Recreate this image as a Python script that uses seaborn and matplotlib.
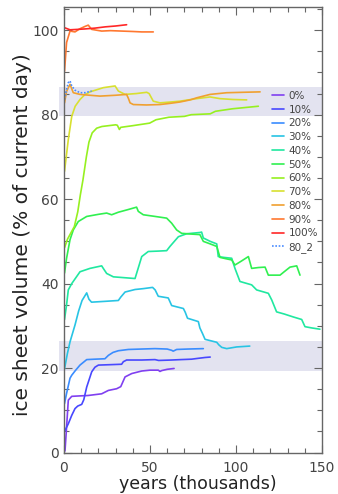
import pandas as pd
import seaborn as sns
import matplotlib.pyplot as plt
from matplotlib.ticker import MultipleLocator

# runs: start fraction of present-day ice sheet
labels = ['0%', '10%', '20%', '30%', '40%', '50%', '60%', '70%', '80%', '90%', '100%', '80_2']
colors = ['#8040f0', '#4848ff', '#3a8cff', '#28c4e4', '#20e8a0', '#30f050',
          '#96f020', '#d8e030', '#f0a030', '#ff7830', '#ff2828', '#4a8cff']

yrs_0 = [0, 0.6, 1.5, 2.5, 4.5, 9, 14, 21.9, 25.8, 30.6, 33, 35.5, 39.4, 45.2, 50, 54.8, 55.8, 56.8, 60, 64]
vol_0 = [0, 0.5, 6, 12.4, 13.3, 13.4, 13.5, 13.9, 14.7, 15.1, 15.6, 17.9, 18.7, 19.3, 19.5, 19.5, 19.2, 19.4, 19.7, 19.9]

yrs_10 = [0.3, 2.5, 4.5, 6.4, 8, 10.3, 11.5, 13.2, 16.1, 18, 20, 27, 33.5, 34.5, 36.4, 45.2, 52.9, 55, 62.6, 68, 74.2, 78, 82, 85]
vol_10 = [5, 6.8, 8.8, 10.4, 11, 11.4, 12.5, 15.5, 19.1, 20.2, 20.7, 20.8, 20.9, 21.5, 21.9, 21.9, 22, 21.8, 21.9, 22, 22.1, 22.3, 22.5, 22.6]

yrs_20 = [0.3, 1.5, 3.5, 4.5, 6.4, 9.3, 13.2, 18, 23.8, 25.8, 28.5, 31.6, 37.4, 45, 52.9, 60, 62.6, 63.5, 65.5, 72, 81]
vol_20 = [11.6, 14, 17.6, 18.3, 19.3, 20.7, 22, 22.1, 22.2, 23, 23.7, 24.1, 24.4, 24.5, 24.6, 24.5, 24.2, 24, 24.4, 24.5, 24.6]

yrs_30 = [0.3, 2, 3.5, 6.4, 8.5, 10.5, 13.2, 14.5, 16, 24, 31.6, 33, 35.5, 41.3, 46, 51.5, 53, 54.8, 60.6, 61.5,
          62.6, 69.4, 70.5, 71.8, 78.1, 79, 80.5, 82, 88.8, 90, 91.7, 94.6, 100.4, 108]
vol_30 = [19.8, 23.5, 26.2, 30.2, 33.5, 36, 37.8, 36.3, 35.6, 35.8, 36, 36.8, 38, 38.6, 38.8, 39.1, 38.5, 37, 36.6, 35.8,
          34.8, 34.1, 33.2, 31.8, 31, 29.5, 28.2, 26.8, 26.1, 25.5, 24.9, 24.6, 25, 25.2]

yrs_40 = [0.3, 1.5, 2.5, 4.5, 9.3, 15.1, 21.9, 23, 24.8, 28.7, 35, 41.3, 42.2, 45.2, 49, 55, 59.7, 61.6, 66.5, 71.3,
          79, 80, 81, 85, 88.8, 89.7, 93, 97.5, 99.4, 102.3, 109.1, 112, 118.8, 120.8, 123.6, 128, 133.3, 138.2,
          140.1, 144, 148.8]
vol_40 = [31.5, 35, 38.5, 40, 42.8, 43.6, 44.2, 43.5, 42.4, 41.6, 41.4, 41.2, 42.4, 46.4, 47.6, 47.7, 47.8, 48.8, 51.1, 51.8,
          52.1, 52.2, 50.8, 50, 49.4, 46.4, 46.2, 46, 43.6, 40.5, 39.7, 38.5, 37.7, 36.1, 33.3, 32.8, 32.1, 31.5,
          29.8, 29.5, 29.2]

yrs_50 = [0.3, 1.5, 3.5, 5.4, 8.3, 13.2, 20, 24.8, 27.7, 31.6, 37, 42.2, 43.2, 46.1, 53, 59.7, 62.6, 65.5, 68.4, 75,
          79, 81, 85, 88.8, 90.7, 94, 97.5, 99.4, 103, 107.2, 109.1, 113, 116.9, 118.8, 125.6, 128, 131.4, 135.3, 137.2]
vol_50 = [42.5, 46, 50.4, 52.7, 54.7, 55.9, 56.4, 56.7, 56.3, 56.9, 57.5, 58.1, 57.1, 56.3, 55.9, 55.5, 54.3, 52.7, 51.9, 51.7,
          51.6, 50, 49.4, 48.8, 46.2, 45.9, 45.6, 44.4, 45.3, 46.4, 43.6, 43.8, 43.9, 42, 42, 42.8, 43.9, 44.2, 42]

yrs_60 = [0.3, 2, 4, 6, 8, 9.5, 11, 13, 14.5, 16.4, 19, 22, 30, 31, 32.2, 33, 40, 49.8, 53.5, 61, 70, 74, 85, 88, 98, 113]
vol_60 = [48.5, 50.5, 52, 53.5, 57, 61, 64.5, 70, 73.5, 75.7, 76.8, 77.2, 77.6, 77.5, 76.5, 77, 77.4, 78, 78.8, 79.4,
          79.6, 80, 80.2, 80.8, 81.4, 82]

yrs_70 = [0.3, 2.5, 4.5, 6.5, 9.3, 12, 15.1, 22.9, 29.7, 31.6, 35.5, 42, 48.1, 49.5, 51.9, 55.8, 62, 67.4, 77.2, 84.9,
          90.7, 98, 106.2]
vol_70 = [66.6, 74.1, 79.6, 82, 83.6, 84.7, 85.4, 86.4, 86.8, 85.6, 84.8, 85, 85.3, 85, 83.2, 82.8, 83, 83.2, 83.8, 84.2,
          83.8, 83.6, 83.5]

yrs_80 = [0.3, 1.5, 3.5, 5.4, 9.3, 15, 20.9, 30, 36.4, 37.5, 38.4, 40.3, 48, 55.8, 62, 67.4, 73.3, 77.2, 84.9, 94.6, 104, 114]
vol_80 = [82.8, 85.5, 87.2, 85.2, 84.8, 84.6, 84.4, 84.6, 84.8, 83.8, 82.8, 82.4, 82.3, 82.4, 82.7, 83, 83.5, 84, 84.8,
          85.2, 85.3, 85.4]

yrs_90 = [0.3, 1.5, 3.5, 6.4, 9, 12.2, 14.1, 16.1, 21.9, 27, 33.5, 40, 45.2, 51.9]
vol_90 = [90.3, 97.1, 99.8, 99.6, 100.3, 100.9, 101.2, 100.2, 99.8, 99.9, 99.8, 99.7, 99.6, 99.6]

yrs_100 = [0.3, 3.5, 8, 12, 18, 24, 30, 36.4]
vol_100 = [100.6, 100.1, 100.2, 100.3, 100.5, 100.8, 101, 101.3]

yrs_80_2 = [0.3, 1.5, 2.5, 3.5, 4.5, 6.4, 9.3, 12.2, 16.1]
vol_80_2 = [83.6, 86, 87.6, 88, 86.8, 85.8, 85.2, 85.2, 85.6]

runs = [(yrs_0, vol_0), (yrs_10, vol_10), (yrs_20, vol_20), (yrs_30, vol_30), (yrs_40, vol_40),
        (yrs_50, vol_50), (yrs_60, vol_60), (yrs_70, vol_70), (yrs_80, vol_80), (yrs_90, vol_90),
        (yrs_100, vol_100), (yrs_80_2, vol_80_2)]

# present-day bands
band_low = (19.2, 26.4)
band_high = (79.6, 86.6)

sns.set_style('ticks')
plt.rcParams['font.family'] = ['DejaVu Sans']

fig = plt.figure(figsize=(3.38, 4.94), dpi=100)
ax = fig.add_axes([64 / 338, 1 - 452.5 / 494, 258 / 338, 445.5 / 494])

for lo, hi in (band_low, band_high):
    ax.axhspan(lo, hi, xmin=-0.02, xmax=1, color='#e3e3f0', lw=0, zorder=0, clip_on=False)

for (x, y), lab, col in zip(runs, labels, colors):
    df = pd.DataFrame({'years': x, 'volume': y})
    ls = (0, (1, 1)) if lab == '80_2' else '-'
    sns.lineplot(data=df, x='years', y='volume', ax=ax, color=col, lw=1.2,
                 linestyle=ls, label=lab, sort=False, estimator=None)

ax.set_xlim(0, 150)
ax.set_ylim(0, 105.5)
ax.xaxis.set_major_locator(MultipleLocator(50))
ax.xaxis.set_minor_locator(MultipleLocator(10))
ax.yaxis.set_major_locator(MultipleLocator(20))
ax.yaxis.set_minor_locator(MultipleLocator(5))
ax.tick_params(which='both', direction='in', top=True, right=True, colors='#666',
               labelcolor='#444', labelsize=10)
ax.tick_params(which='major', length=6, width=0.8)
ax.tick_params(which='minor', length=3.5, width=0.8)
ax.tick_params(axis='x', pad=6)
ax.tick_params(axis='y', pad=4)
for sp in ax.spines.values():
    sp.set_color('#666')
    sp.set_linewidth(1.0)

ax.set_xlabel('years (thousands)', fontsize=12.5, color='#222')
ax.set_ylabel('ice sheet volume (% of current day)', fontsize=14.5, color='#222')
ax.xaxis.set_label_coords(0.52, -0.05)
ax.yaxis.set_label_coords(-0.125, 0.49)

ax.legend(loc='upper left', bbox_to_anchor=(0.805, 0.812), frameon=False, fontsize=7.5,
          handlelength=1.2, handletextpad=0.4, labelspacing=0.36, borderaxespad=0,
          borderpad=0, labelcolor='#444')

fig.savefig('out.png', dpi=100)
